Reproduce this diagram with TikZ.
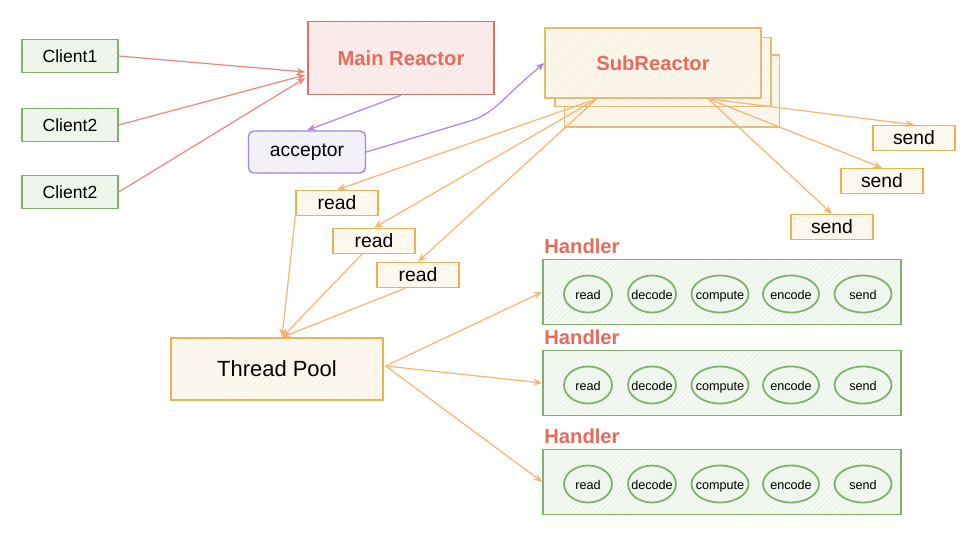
\documentclass[tikz,border=0pt]{standalone}
\usepackage{fontspec}
\setmainfont{Liberation Sans}
\usetikzlibrary{
    arrows.meta,
    calc,
    patterns,
    shapes.geometric,
    positioning
}
\definecolor{clientgreen}{RGB}{125,178,105}
\definecolor{reactorred}{RGB}{218,112,104}
\definecolor{titlered}{RGB}{232,106,90}
\definecolor{acceptpurple}{RGB}{165,135,215}
\definecolor{subyellow}{RGB}{228,190,110}
\definecolor{taskorange}{RGB}{232,180,80}
\definecolor{flowsalmon}{RGB}{238,135,125}
\definecolor{flowpurple}{RGB}{178,128,245}
\definecolor{floworange}{RGB}{250,180,115}

\begin{document}
\begin{tikzpicture}[x=0.02cm, y=-0.02cm,
    box/.style={draw=#1, line width=0.8pt, fill=#1!10,
        path picture={\fill[pattern=north east lines, pattern color=#1!20]
            (path picture bounding box.south west) rectangle
            (path picture bounding box.north east);}},
    smallbox/.style={box=taskorange, fill=taskorange!6, minimum width=1.64cm,
        minimum height=0.5cm, inner sep=0pt, font=\fontsize{11}{12}\selectfont},
    stage/.style={ellipse, draw=clientgreen, line width=1pt, fill=clientgreen!12,
        minimum height=0.74cm, inner xsep=-10pt, inner ysep=0pt,
        text height=1.4ex, text depth=0.3ex,
        font=\fontsize{7.2}{8}\selectfont},
    flow/.style={-{Stealth[length=5pt,width=4pt]}, line width=0.7pt, #1},
    title/.style={font=\bfseries\fontsize{11.5}{12}\selectfont, text=titlered}
]
    % Canvas
    \useasboundingbox (0,0) rectangle (966,532);

    % Clients
    \foreach \n/\yy/\lbl in {c1/56/Client1, c2/125/Client2, c3/192/Client2}
        \node[box=clientgreen, minimum width=1.92cm, minimum height=0.66cm,
            font=\fontsize{10}{12}\selectfont] (\n) at (70,\yy) {\lbl};

    % Main Reactor and acceptor
    \node[box=reactorred, fill=reactorred!12, minimum width=3.72cm,
        minimum height=1.46cm, title] (main) at (401,58) {Main Reactor};
    \node[box=acceptpurple, rounded corners=3pt, minimum width=2.34cm,
        minimum height=0.84cm, font=\fontsize{11}{12}\selectfont]
        (acceptor) at (307,152) {acceptor};

    % SubReactor (stacked)
    \node[box=subyellow, fill=subyellow!12, minimum width=4.3cm,
        minimum height=1.44cm] (sub3) at (672,91) {};
    \node[box=subyellow, fill=subyellow!12, minimum width=4.32cm,
        minimum height=1.38cm] (sub2) at (663,72) {};
    \node[box=subyellow, fill=subyellow!14, minimum width=4.32cm,
        minimum height=1.4cm, title] (sub) at (653,63) {SubReactor};

    % send boxes
    \node[smallbox] (send1) at (914,138) {send};
    \node[smallbox] (send2) at (882,181) {send};
    \node[smallbox] (send3) at (832,227) {send};

    % read boxes
    \node[smallbox] (read1) at (337,203) {read};
    \node[smallbox] (read2) at (374,241) {read};
    \node[smallbox] (read3) at (418,275) {read};

    % Thread Pool
    \node[box=taskorange, fill=taskorange!8, minimum width=4.24cm,
        minimum height=1.24cm, font=\fontsize{12.5}{14}\selectfont]
        (pool) at (277,369) {Thread Pool};

    % Handlers
    \foreach \i/\yy in {1/292, 2/383, 3/482} {
        \node[title, anchor=west, inner sep=0pt] (hl\i) at (544,\yy-46) {Handler};
        \node[box=clientgreen, fill=clientgreen!8, minimum width=7.16cm,
            minimum height=1.3cm] (h\i) at (722,\yy) {};
        \foreach \stg/\xx/\ww in {read/588/0.96, decode/652/0.96, compute/720/1.14,
                                  encode/791/1.12, send/863/1.14}
            \node[stage, minimum width=\ww cm] (h\i-\stg) at (\xx,\yy+2) {\stg};
    }

    % Clients -> Main Reactor
    \draw[flow=flowsalmon] (c1.east) -- ($(main.west)+(-2,14)$);
    \draw[flow=flowsalmon] (c2.east) -- ($(main.west)+(-2,17)$);
    \draw[flow=flowsalmon] (c3.east) -- ($(main.west)+(-2,20)$);

    % Main Reactor -> acceptor -> SubReactor
    \draw[flow=flowpurple] (main.south) -- (acceptor.north);
    \draw[flow=flowpurple] (acceptor.east) -- (470,121)
        .. controls (495,113) and (500,100) .. (sub.west);

    % SubReactor -> read / send
    \coordinate (subl) at ($(sub.south)+(-56,0)$);
    \coordinate (subr) at ($(sub.south)+(55,0)$);
    \foreach \r in {read1, read2, read3}
        \draw[flow=floworange] (subl) -- (\r.north);
    \foreach \s in {send1, send2, send3}
        \draw[flow=floworange] (subr) -- (\s.north);

    % read -> Thread Pool
    \coordinate (pooltop) at ($(pool.north)+(5,0)$);
    \draw[flow=floworange] (read1.south west) -- (pooltop);
    \draw[flow=floworange] ($(read2.south)+(-12,0)$) -- (pooltop);
    \draw[flow=floworange] ($(read3.south)+(-13,0)$) -- (pooltop);

    % Thread Pool -> Handlers
    \foreach \i in {1,2,3}
        \draw[flow=floworange] ($(pool.east)+(2,-3)$) -- (h\i.west);
\end{tikzpicture}
\end{document}
